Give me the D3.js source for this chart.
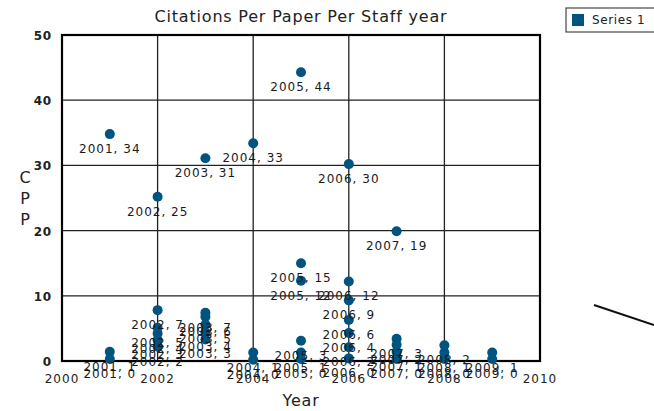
<!DOCTYPE html>
<html>
<head>
<meta charset="utf-8">
<script src="https://cdn.jsdelivr.net/npm/d3@7"></script>
<style>
  body { margin: 0; background: #fff; }
  text { font-family: "DejaVu Sans", Verdana, sans-serif; }
</style>
</head>
<body>
<div id="chart"></div>
<script>
var svgWidth = 654;
var svgHeight = 411;

var margin = { top: 35, right: 114, bottom: 50, left: 62 };
var width = svgWidth - margin.left - margin.right;
var height = svgHeight - margin.top - margin.bottom;

// data: year and citations per paper
var years = [2001, 2001, 2001,
  2002, 2002, 2002, 2002, 2002, 2002,
  2003, 2003, 2003, 2003, 2003, 2003,
  2004, 2004, 2004,
  2005, 2005, 2005, 2005, 2005, 2005,
  2006, 2006, 2006, 2006, 2006, 2006, 2006,
  2007, 2007, 2007, 2007, 2007,
  2008, 2008, 2008,
  2009, 2009];
var cpp = [34.8, 1.4, 0.3,
  25.2, 7.8, 5.1, 4.2, 3.2, 2.2,
  31.1, 7.4, 6.8, 5.6, 4.4, 3.3,
  33.4, 1.3, 0.2,
  44.3, 15.0, 12.3, 3.1, 1.3, 0.3,
  30.2, 12.2, 9.3, 6.3, 4.3, 2.1, 0.4,
  19.9, 3.4, 2.5, 1.4, 0.3,
  2.4, 1.3, 0.3,
  1.3, 0.3];
var xTicks = [2000, 2002, 2004, 2006, 2008, 2010];
var yTicks = [0, 10, 20, 30, 40, 50];
var seriesName = "Series 1";

var points = years.map(function(y, i) { return { year: y, value: cpp[i] }; });

var svg = d3.select("#chart")
  .append("svg")
  .attr("width", svgWidth)
  .attr("height", svgHeight);

var chartGroup = svg.append("g")
  .attr("transform", `translate(${margin.left}, ${margin.top})`);

var xScale = d3.scaleLinear().domain([2000, 2010]).range([0, width]);
var yScale = d3.scaleLinear().domain([0, 50]).range([height, 0]);

// gridlines
chartGroup.selectAll(".vgrid")
  .data(xTicks.slice(1, -1))
  .enter()
  .append("line")
  .attr("x1", d => xScale(d))
  .attr("x2", d => xScale(d))
  .attr("y1", 0)
  .attr("y2", height)
  .attr("stroke", "#222")
  .attr("stroke-width", 1.3);

chartGroup.selectAll(".hgrid")
  .data(yTicks.slice(1, -1))
  .enter()
  .append("line")
  .attr("x1", 0)
  .attr("x2", width)
  .attr("y1", d => yScale(d))
  .attr("y2", d => yScale(d))
  .attr("stroke", "#222")
  .attr("stroke-width", 1.3);

// frame
chartGroup.append("rect")
  .attr("width", width)
  .attr("height", height)
  .attr("fill", "none")
  .attr("stroke", "#000")
  .attr("stroke-width", 2.2);

// axis tick labels
chartGroup.selectAll(".ylab")
  .data(yTicks)
  .enter()
  .append("text")
  .attr("x", -10)
  .attr("y", d => yScale(d) + 5)
  .attr("text-anchor", "end")
  .attr("font-size", 12)
  .attr("font-weight", "bold")
  .attr("letter-spacing", 0.8)
  .attr("fill", "#222")
  .text(d => d);

chartGroup.selectAll(".xlab")
  .data(xTicks)
  .enter()
  .append("text")
  .attr("x", d => xScale(d))
  .attr("y", height + 22)
  .attr("text-anchor", "middle")
  .attr("font-size", 12)
  .attr("letter-spacing", 1)
  .attr("fill", "#222")
  .text(d => d);

// points
chartGroup.selectAll("circle")
  .data(points)
  .enter()
  .append("circle")
  .attr("cx", d => xScale(d.year))
  .attr("cy", d => yScale(d.value))
  .attr("r", 5)
  .attr("fill", "#01547f");

// point labels on top
chartGroup.selectAll(".plab")
  .data(points)
  .enter()
  .append("text")
  .attr("x", d => xScale(d.year))
  .attr("y", d => yScale(d.value) + 19)
  .attr("text-anchor", "middle")
  .attr("font-size", 12)
  .attr("letter-spacing", 1)
  .attr("fill", "#1a1a1a")
  .text(d => d.year + ", " + Math.floor(d.value));

// title
svg.append("text")
  .attr("x", margin.left + width / 2)
  .attr("y", 22)
  .attr("text-anchor", "middle")
  .attr("font-size", 16)
  .attr("letter-spacing", 0.8)
  .attr("fill", "#222")
  .text("Citations Per Paper Per Staff year");

// axis titles
svg.append("text")
  .attr("x", margin.left + width / 2)
  .attr("y", 406)
  .attr("text-anchor", "middle")
  .attr("font-size", 16)
  .attr("letter-spacing", 0.8)
  .attr("fill", "#222")
  .text("Year");

["C", "P", "P"].forEach(function(ch, i) {
  svg.append("text")
    .attr("x", 25)
    .attr("y", 183 + i * 21)
    .attr("text-anchor", "middle")
    .attr("font-size", 16)
    .attr("fill", "#222")
    .text(ch);
});

// legend
var legend = svg.append("g").attr("transform", "translate(566, 8)");
legend.append("rect")
  .attr("width", 95)
  .attr("height", 24)
  .attr("fill", "#fff")
  .attr("stroke", "#222")
  .attr("stroke-width", 1);
legend.append("rect")
  .attr("x", 6)
  .attr("y", 6)
  .attr("width", 12)
  .attr("height", 12)
  .attr("fill", "#01547f");
legend.append("text")
  .attr("x", 26)
  .attr("y", 16)
  .attr("font-size", 12)
  .attr("letter-spacing", 0.6)
  .attr("fill", "#222")
  .text(seriesName);

// stray stroke at the right edge
svg.append("line")
  .attr("x1", 594)
  .attr("y1", 305)
  .attr("x2", 654)
  .attr("y2", 325)
  .attr("stroke", "#111")
  .attr("stroke-width", 2);
</script>
</body>
</html>
